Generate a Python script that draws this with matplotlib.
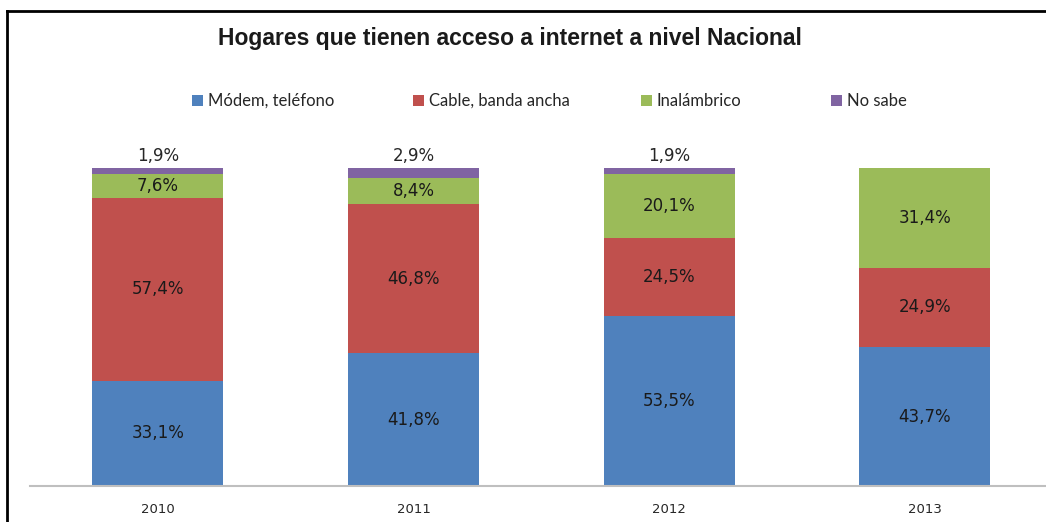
import matplotlib
matplotlib.use('Agg')
import matplotlib.pyplot as plt
from matplotlib.lines import Line2D
import numpy as np

# datos
years = ['2010', '2011', '2012', '2013']
series_names = ['Módem, teléfono', 'Cable, banda ancha', 'Inalámbrico', 'No sabe']
modem = [33.1, 41.8, 53.5, 43.7]
cable = [57.4, 46.8, 24.5, 24.9]
inalambrico = [7.6, 8.4, 20.1, 31.4]
no_sabe = [1.9, 2.9, 1.9, 0.0]

colors = ['#4F81BD', '#C0504D', '#9BBB59', '#8064A2']

W, H = 1046, 522
fig = plt.figure(figsize=(W / 100, H / 100), dpi=100)
ax = fig.add_axes([30 / W, (H - 486) / H, 1016 / W, 318 / H])

x = np.arange(len(years))
bottom = np.zeros(len(years))
series = [modem, cable, inalambrico, no_sabe]
handles = []
for vals, name, c in zip(series, series_names, colors):
    vals = np.array(vals)
    bc = ax.bar(x, vals, width=0.512, bottom=bottom, color=c, label=name, zorder=2)
    handles.append(bc)
    for xi, v, b in zip(x, vals, bottom):
        if v <= 0:
            continue
        txt = '{:.1f}%'.format(v).replace('.', ',')
        if name == 'No sabe':
            ax.text(xi, b + v + 1.0, txt, ha='center', va='bottom', fontsize=12,
                    color='#262626', family='DejaVu Sans', clip_on=False)
        else:
            ax.text(xi, b + v / 2, txt, ha='center', va='center', fontsize=12,
                    color='#1a1a1a', family='DejaVu Sans')
    bottom = bottom + vals

ax.set_xlim(-0.5, -0.5 + 1016 / 255.7)
ax.set_ylim(0, 100)
ax.set_yticks([])
ax.set_xticks(x)
ax.set_xticklabels(years, fontsize=9.5, color='#262626', family='DejaVu Sans')
ax.tick_params(axis='x', length=0, pad=12)
for s in ['top', 'right', 'left']:
    ax.spines[s].set_visible(False)
ax.spines['bottom'].set_color('#BFBFBF')
ax.spines['bottom'].set_linewidth(1.5)

# titulo
fig.text(510 / W, 1 - 38 / H, 'Hogares que tienen acceso a internet a nivel Nacional',
         ha='center', va='center', fontsize=16.5, fontweight='bold',
         family='Liberation Sans', color='#1a1a1a')

# leyenda (una entrada por posicion, como en Excel)
legend_x = [192, 413, 641, 831]
for h, name, lx in zip(handles, series_names, legend_x):
    lg = fig.legend([h], [name], loc='center left', bbox_to_anchor=(lx / W, 1 - 101 / H),
                    frameon=False, handlelength=0.65, handleheight=0.65, handletextpad=0.3,
                    borderaxespad=0, borderpad=0, prop={'family': 'Lato', 'size': 12})
    for t in lg.get_texts():
        t.set_color('#262626')

# marco
fig.add_artist(Line2D([7 / W, 7 / W], [0, 1 - 11 / H], color='black', lw=2,
                      transform=fig.transFigure))
fig.add_artist(Line2D([7 / W, 1], [1 - 11 / H, 1 - 11 / H], color='black', lw=2,
                      transform=fig.transFigure))

fig.savefig('out.png', dpi=100)
